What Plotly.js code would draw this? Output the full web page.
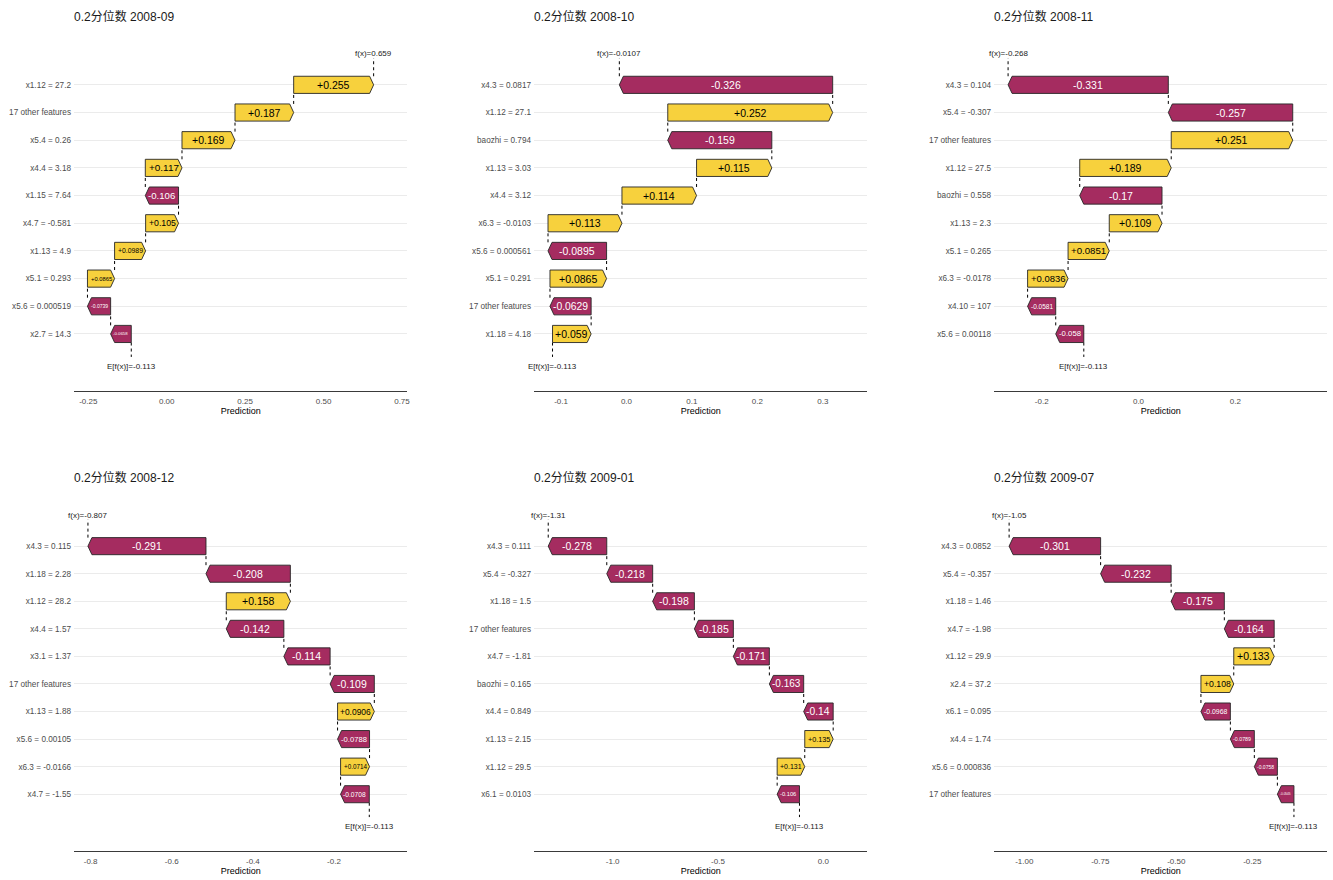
<!DOCTYPE html>
<html>
<head>
<meta charset="utf-8">
<script src="https://cdn.plot.ly/plotly-3.0.1.min.js"></script>
<style>
  html, body { margin: 0; padding: 0; background: #ffffff; }
  #chart { width: 1333px; height: 880px; }
</style>
</head>
<body>
<div id="chart"></div>
<script>
// SHAP waterfall data: feature labels and contributions listed top to bottom.
const baseValue = -0.113;

const titles = ['0.2分位数 2008-09', '0.2分位数 2008-10', '0.2分位数 2008-11',
                '0.2分位数 2008-12', '0.2分位数 2009-01', '0.2分位数 2009-07'];

const features0809 = ['x1.12 = 27.2', '17 other features', 'x5.4 = 0.26', 'x4.4 = 3.18', 'x1.15 = 7.64',
                      'x4.7 = -0.581', 'x1.13 = 4.9', 'x5.1 = 0.293', 'x5.6 = 0.000519', 'x2.7 = 14.3'];
const shap0809 = [0.255, 0.187, 0.169, 0.117, -0.106, 0.105, 0.0989, 0.0865, -0.0739, -0.0658];
const fx0809 = 0.659;

const features0810 = ['x4.3 = 0.0817', 'x1.12 = 27.1', 'baozhi = 0.794', 'x1.13 = 3.03', 'x4.4 = 3.12',
                      'x6.3 = -0.0103', 'x5.6 = 0.000561', 'x5.1 = 0.291', '17 other features', 'x1.18 = 4.18'];
const shap0810 = [-0.326, 0.252, -0.159, 0.115, 0.114, 0.113, -0.0895, 0.0865, -0.0629, 0.059];
const fx0810 = -0.0107;

const features0811 = ['x4.3 = 0.104', 'x5.4 = -0.307', '17 other features', 'x1.12 = 27.5', 'baozhi = 0.558',
                      'x1.13 = 2.3', 'x5.1 = 0.265', 'x6.3 = -0.0178', 'x4.10 = 107', 'x5.6 = 0.00118'];
const shap0811 = [-0.331, -0.257, 0.251, 0.189, -0.17, 0.109, 0.0851, 0.0836, -0.0581, -0.058];
const fx0811 = -0.268;

const features0812 = ['x4.3 = 0.115', 'x1.18 = 2.28', 'x1.12 = 28.2', 'x4.4 = 1.57', 'x3.1 = 1.37',
                      '17 other features', 'x1.13 = 1.88', 'x5.6 = 0.00105', 'x6.3 = -0.0166', 'x4.7 = -1.55'];
const shap0812 = [-0.291, -0.208, 0.158, -0.142, -0.114, -0.109, 0.0906, -0.0788, 0.0714, -0.0708];
const fx0812 = -0.807;

const features0901 = ['x4.3 = 0.111', 'x5.4 = -0.327', 'x1.18 = 1.5', '17 other features', 'x4.7 = -1.81',
                      'baozhi = 0.165', 'x4.4 = 0.849', 'x1.13 = 2.15', 'x1.12 = 29.5', 'x6.1 = 0.0103'];
const shap0901 = [-0.278, -0.218, -0.198, -0.185, -0.171, -0.163, -0.14, 0.135, 0.131, -0.106];
const fx0901 = -1.31;

const features0907 = ['x4.3 = 0.0852', 'x5.4 = -0.357', 'x1.18 = 1.46', 'x4.7 = -1.98', 'x1.12 = 29.9',
                      'x2.4 = 37.2', 'x6.1 = 0.095', 'x4.4 = 1.74', 'x5.6 = 0.000836', '17 other features'];
const shap0907 = [-0.301, -0.232, -0.175, -0.164, 0.133, 0.108, -0.0968, -0.0789, -0.0758, -0.0545];
const fx0907 = -1.05;

// x-axis tick values and labels for each panel
const ticks0809 = [-0.25, 0, 0.25, 0.5, 0.75];
const tickText0809 = ['-0.25', '0.00', '0.25', '0.50', '0.75'];
const ticks0810 = [-0.1, 0, 0.1, 0.2, 0.3];
const tickText0810 = ['-0.1', '0.0', '0.1', '0.2', '0.3'];
const ticks0811 = [-0.2, 0, 0.2];
const tickText0811 = ['-0.2', '0.0', '0.2'];
const ticks0812 = [-0.8, -0.6, -0.4, -0.2];
const tickText0812 = ['-0.8', '-0.6', '-0.4', '-0.2'];
const ticks0901 = [-1, -0.5, 0];
const tickText0901 = ['-1.0', '-0.5', '0.0'];
const ticks0907 = [-1, -0.75, -0.5, -0.25];
const tickText0907 = ['-1.00', '-0.75', '-0.50', '-0.25'];

// ---- layout of the 2 x 3 grid (pixels) ----
const W = 1333, H = 880;
const colPx = [[74, 407.3], [534, 867.3], [994, 1327.3]];
const rowPx = [[40, 390.7], [501.5, 850.7]];
const titleY = [17, 477.5];
const yRange = [12.05, -0.62];   // rows 1..10, top row = 1
const halfBar = 0.31;
const headPx = 4;

const FONT = 'Liberation Sans, Arial, Noto Sans CJK SC, sans-serif';
const POS_FILL = '#f7d13d';
const NEG_FILL = '#a52c60';

const panels = [
  {features: features0809, shap: shap0809, fx: fx0809, ticks: ticks0809, tickText: tickText0809, xr: [-0.2956, 0.767], row: 0, col: 0},
  {features: features0810, shap: shap0810, fx: fx0810, ticks: ticks0810, tickText: tickText0810, xr: [-0.1413, 0.368], row: 0, col: 1},
  {features: features0811, shap: shap0811, fx: fx0811, ticks: ticks0811, tickText: tickText0811, xr: [-0.2985, 0.390], row: 0, col: 2},
  {features: features0812, shap: shap0812, fx: fx0812, ticks: ticks0812, tickText: tickText0812, xr: [-0.841, -0.0193], row: 1, col: 0},
  {features: features0901, shap: shap0901, fx: fx0901, ticks: ticks0901, tickText: tickText0901, xr: [-1.3735, 0.209], row: 1, col: 1},
  {features: features0907, shap: shap0907, fx: fx0907, ticks: ticks0907, tickText: tickText0907, xr: [-1.0997, -0.0033], row: 1, col: 2}
];

// approximate Arial glyph widths in em, for fitting the labels inside bars
function emWidth(s) {
  let w = 0;
  for (const c of s) {
    if (c === '.') w += 0.278;
    else if (c === '-') w += 0.333;
    else if (c === '+') w += 0.584;
    else w += 0.556;
  }
  return w;
}

function fmt(v) { return (v > 0 ? '+' : '') + String(v); }

const traces = [];
const annotations = [];
const layout = {
  width: W, height: H,
  margin: {l: 0, r: 0, t: 0, b: 0},
  paper_bgcolor: '#ffffff',
  plot_bgcolor: '#ffffff',
  showlegend: false,
  hovermode: false,
  font: {family: FONT, color: '#000000'}
};

panels.forEach((p, idx) => {
  const n = idx + 1;
  const xName = n === 1 ? 'x' : 'x' + n;
  const yName = n === 1 ? 'y' : 'y' + n;
  const xKey = n === 1 ? 'xaxis' : 'xaxis' + n;
  const yKey = n === 1 ? 'yaxis' : 'yaxis' + n;
  const cx = colPx[p.col], ry = rowPx[p.row];

  layout[xKey] = {
    domain: [cx[0] / W, cx[1] / W],
    range: p.xr,
    anchor: yName,
    tickmode: 'array', tickvals: p.ticks, ticktext: p.tickText,
    tickfont: {size: 8, color: '#4d4d4d', family: FONT},
    ticks: '', ticklabelstandoff: 3,
    showgrid: false, zeroline: false,
    showline: true, linecolor: '#3a3a3a', linewidth: 1.1,
    title: {text: 'Prediction', font: {size: 9, color: '#000000', family: FONT}, standoff: 2}
  };
  layout[yKey] = {
    domain: [1 - ry[1] / H, 1 - ry[0] / H],
    range: yRange,
    anchor: xName,
    tickmode: 'array',
    tickvals: p.features.map((_, i) => i + 1),
    ticktext: p.features,
    tickfont: {size: 8.2, color: '#4d4d4d', family: FONT},
    ticks: '', ticklabelstandoff: 2,
    showgrid: true, gridcolor: '#ebebeb', gridwidth: 1,
    zeroline: false, showline: false
  };

  const pxPerUnit = (cx[1] - cx[0]) / (p.xr[1] - p.xr[0]);
  const head = headPx / pxPerUnit;
  const nRows = p.shap.length;

  // accumulate contributions from the bottom row (base value) up to f(x)
  const starts = new Array(nRows), ends = new Array(nRows);
  let cur = baseValue;
  for (let k = nRows - 1; k >= 0; k--) {
    starts[k] = cur;
    ends[k] = cur + p.shap[k];
    cur = ends[k];
  }

  // dashed connectors
  const lx = [], ly = [];
  lx.push(baseValue, baseValue, null); ly.push(nRows + halfBar, nRows + 0.83, null);
  for (let k = nRows - 1; k >= 1; k--) {
    lx.push(ends[k], ends[k], null);
    ly.push(k + 1 - halfBar, k + halfBar, null);
  }
  lx.push(ends[0], ends[0]); ly.push(1 - halfBar, 0.03);
  traces.push({
    type: 'scatter', mode: 'lines', x: lx, y: ly, xaxis: xName, yaxis: yName,
    line: {color: '#000000', width: 1, dash: '3px,3px'}, hoverinfo: 'skip'
  });

  // arrow-shaped bars
  for (let k = 0; k < nRows; k++) {
    const s = starts[k], e = ends[k], r = k + 1;
    const dir = e >= s ? 1 : -1;
    const w = Math.abs(e - s);
    const hd = Math.min(head, w);
    traces.push({
      type: 'scatter', mode: 'lines', fill: 'toself',
      x: [s, e - dir * hd, e, e - dir * hd, s, s],
      y: [r - halfBar, r - halfBar, r, r + halfBar, r + halfBar, r - halfBar],
      xaxis: xName, yaxis: yName,
      fillcolor: p.shap[k] > 0 ? POS_FILL : NEG_FILL,
      line: {color: '#262626', width: 0.9},
      hoverinfo: 'skip'
    });
    const txt = fmt(p.shap[k]);
    const wPx = w * pxPerUnit;
    const size = Math.max(2.5, Math.min(10.5, (wPx - 6) / emWidth(txt)));
    annotations.push({
      xref: xName, yref: yName, x: (s + e) / 2, y: r,
      text: txt, showarrow: false, xanchor: 'center', yanchor: 'middle',
      font: {size: size, color: p.shap[k] > 0 ? '#000000' : '#ffffff', family: FONT}
    });
  }

  // f(x) and E[f(x)] labels
  annotations.push({
    xref: xName, yref: yName, x: ends[0], y: -0.12,
    text: 'f(x)=' + String(p.fx), showarrow: false, xanchor: 'center', yanchor: 'middle',
    font: {size: 8, color: '#1a1a1a', family: FONT}
  });
  annotations.push({
    xref: xName, yref: yName, x: baseValue, y: 11.16,
    text: 'E[f(x)]=' + String(baseValue), showarrow: false, xanchor: 'center', yanchor: 'middle',
    font: {size: 8, color: '#1a1a1a', family: FONT}
  });

  // panel title
  annotations.push({
    xref: 'paper', yref: 'paper', x: cx[0] / W, y: 1 - titleY[p.row] / H,
    xshift: -2,
    text: titles[idx], showarrow: false, xanchor: 'left', yanchor: 'middle',
    font: {size: 12, color: '#1a1a1a', family: FONT}
  });
});

layout.annotations = annotations;

Plotly.newPlot('chart', traces, layout, {staticPlot: true, displayModeBar: false});
</script>
</body>
</html>
